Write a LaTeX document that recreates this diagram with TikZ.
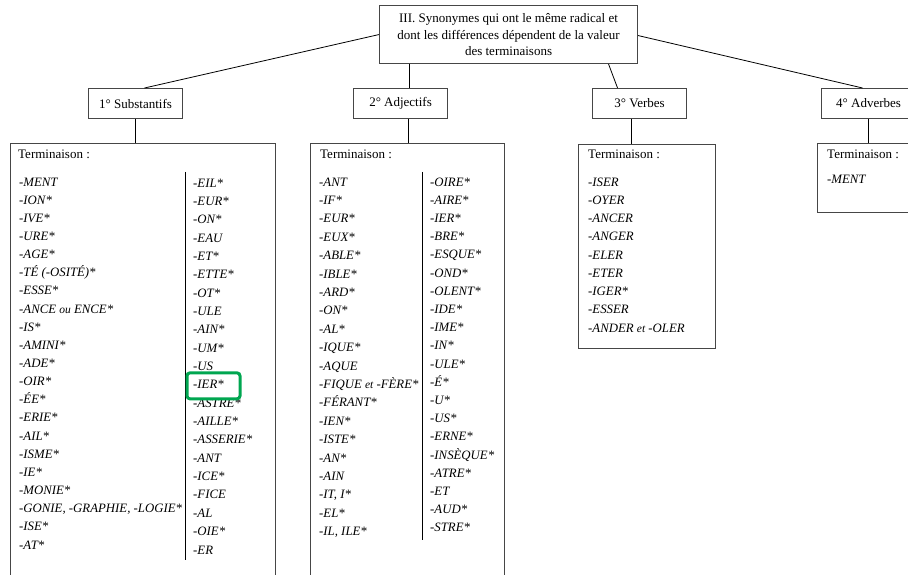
\documentclass[tikz,border=0pt]{standalone}
\usepackage{fontspec}
\setmainfont{Liberation Serif}
\definecolor{hlgreen}{RGB}{0,166,80}
\definecolor{boxgray}{RGB}{70,70,70}
\newcommand{\smallconj}[1]{{\fontsize{11.5}{15}\selectfont #1}}
\begin{document}
\begin{tikzpicture}[x=1pt,y=-1pt,
  font=\fontsize{13}{16.7}\selectfont,
  box/.style={draw=boxgray, line width=1.1pt, inner sep=0pt},
  conn/.style={draw=black, line width=0.8pt},
  item/.style={anchor=base west, inner sep=0pt, font=\fontsize{12.8}{15}\selectfont\itshape},
  lbl/.style={anchor=base west, inner sep=0pt, font=\fontsize{13}{15}\selectfont},
  hl/.style={draw=hlgreen, line width=3pt, rounded corners=3pt}]
\useasboundingbox (0,0) rectangle (908,575);
% title
\node[box, minimum width=258, minimum height=58, anchor=north west, align=center] (top) at (379,5)
  {III. Synonymes qui ont le même radical et\\dont les différences dépendent de la valeur\\des terminaisons};
% categories
\node[box, minimum width=94, minimum height=30, anchor=north west] (subst) at (88,88) {1° Substantifs};
\node[box, minimum width=94, minimum height=30, anchor=north west] (adj) at (353,88) {2° Adjectifs};
\node[box, minimum width=94, minimum height=30, anchor=north west] (verb) at (592,88) {3° Verbes};
\node[box, minimum width=94, minimum height=30, anchor=north west] (adv) at (821,88) {4° Adverbes};
% list boxes
\node[box, minimum width=265, minimum height=450, anchor=north west] (slist) at (10,143) {};
\node[box, minimum width=194, minimum height=450, anchor=north west] (alist) at (310,143) {};
\node[box, minimum width=137, minimum height=204, anchor=north west] (vlist) at (578,144) {};
\node[box, minimum width=100, minimum height=69, anchor=north west] (avlist) at (817,143) {};
% connectors
\draw[conn] (top.west) -- ([xshift=9pt]subst.north);
\draw[conn] ([xshift=9pt]adj.north |- top.south) -- ([xshift=9pt]adj.north);
\draw[conn] ([xshift=-31pt]verb.north |- top.south) -- ([xshift=-22pt]verb.north);
\draw[conn] ([yshift=-1pt]top.east) -- ([xshift=-6pt]adv.north);
\draw[conn] (subst.south) -- (subst.south |- slist.north);
\draw[conn] ([xshift=8pt]adj.south) -- ([xshift=8pt]adj.south |- alist.north);
\draw[conn] ([xshift=-8pt]verb.south) -- ([xshift=-8pt]verb.south |- vlist.north);
\draw[conn] (adv.south) -- (adv.south |- avlist.north);
% dividers
\draw[conn] (185,172) -- (185,560);
\draw[conn] (422,172) -- (422,540);
% Terminaison labels
\node[lbl] (st) at (18,159) {Terminaison :};
\node[lbl] (at) at (320,159) {Terminaison :};
\node[lbl] (vt) at (588,159) {Terminaison :};
\node[lbl] (avt) at (827,159) {Terminaison :};
% Substantifs left
\foreach \t [count=\i] in {-MENT,-ION*,-IVE*,-URE*,-AGE*,-TÉ (-OSITÉ)*,-ESSE*,{-ANCE \smallconj{ou} ENCE*},-IS*,-AMINI*,-ADE*,-OIR*,-ÉE*,-ERIE*,-AIL*,-ISME*,-IE*,-MONIE*,{-GONIE, -GRAPHIE, -LOGIE*},-ISE*,-AT*}
  \node[item] (sl\i) at (19,{186+(\i-1)*18.15}) {\t};
% Substantifs right
\foreach \t [count=\i] in {-EIL*,-EUR*,-ON*,-EAU,-ET*,-ETTE*,-OT*,-ULE,-AIN*,-UM*,-US,-IER*,-ASTRE*,-AILLE*,-ASSERIE*,-ANT,-ICE*,-FICE,-AL,-OIE*,-ER}
  \node[item] (sr\i) at (193,{187+(\i-1)*18.35}) {\t};
% Adjectifs left
\foreach \t [count=\i] in {-ANT,-IF*,-EUR*,-EUX*,-ABLE*,-IBLE*,-ARD*,-ON*,-AL*,-IQUE*,-AQUE,{-FIQUE \smallconj{et} -FÈRE*},-FÉRANT*,-IEN*,-ISTE*,-AN*,-AIN,{-IT, I*},-EL*,{-IL, ILE*}}
  \node[item] (al\i) at (319,{186+(\i-1)*18.4}) {\t};
% Adjectifs right
\foreach \t [count=\i] in {-OIRE*,-AIRE*,-IER*,-BRE*,-ESQUE*,-OND*,-OLENT*,-IDE*,-IME*,-IN*,-ULE*,-É*,-U*,-US*,-ERNE*,-INSÈQUE*,-ATRE*,-ET,-AUD*,-STRE*}
  \node[item] (ar\i) at (430,{186+(\i-1)*18.2}) {\t};
% Verbes
\foreach \t [count=\i] in {-ISER,-OYER,-ANCER,-ANGER,-ELER,-ETER,-IGER*,-ESSER,{-ANDER \smallconj{et} -OLER}}
  \node[item] (v\i) at (588,{186+(\i-1)*18.25}) {\t};
% Adverbes
\node[item] (av1) at (827,184) {-MENT};
% highlight
\draw[hl] (sr12.base west) ++(-6,-16) rectangle ++(53,26);
\end{tikzpicture}
\end{document}
